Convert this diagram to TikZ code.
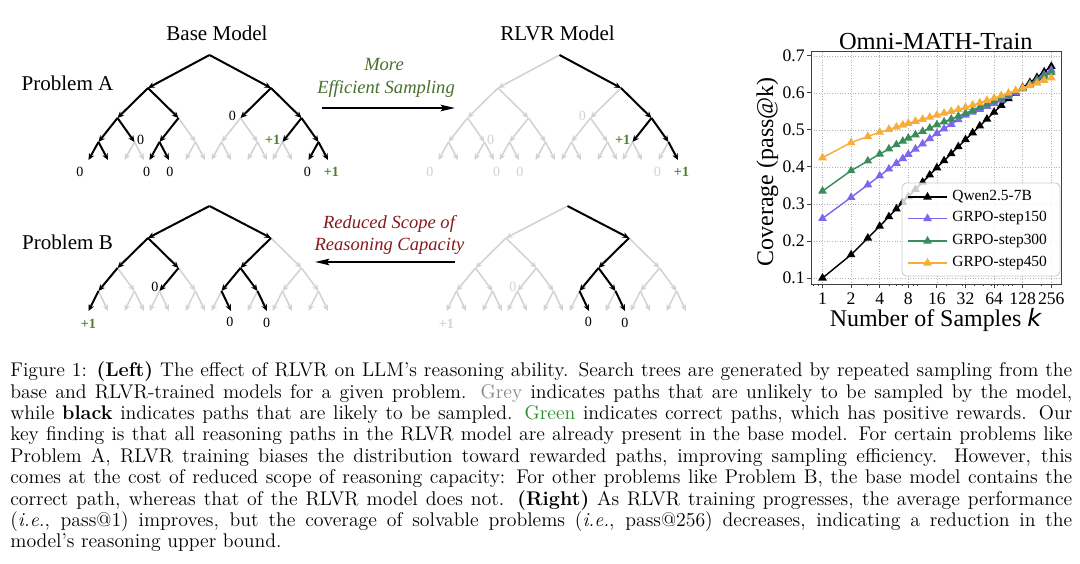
\documentclass[tikz,border=0pt]{standalone}
\usepackage{fontspec}
\newfontfamily\timesf{Liberation Serif}
\newfontfamily\dvsans{DejaVu Sans}
\usetikzlibrary{arrows.meta,calc,plotmarks}
\definecolor{lgrey}{RGB}{210,210,210}
\definecolor{tgreen}{RGB}{72,112,42}
\definecolor{lgreen}{RGB}{78,128,48}
\definecolor{dred}{RGB}{135,25,32}
\definecolor{capgreen}{RGB}{40,140,40}
\definecolor{capgrey}{RGB}{135,135,135}
\definecolor{cpurple}{RGB}{123,104,238}
\definecolor{cgreen}{RGB}{58,140,90}
\definecolor{corange}{RGB}{248,172,58}
\tikzset{
  gedge/.style={draw=lgrey, line width=0.85pt, -{Stealth[length=3.6pt,width=3.2pt]}},
  bedge/.style={draw=black, line width=1.1pt, -{Stealth[length=3.6pt,width=3.2pt]}},
  bigarrow/.style={draw=black, line width=1.1pt, -{Stealth[length=8pt,width=3.6pt,inset=1.5pt]}},
  ttl/.style={font=\timesf\fontsize{11.7}{14}\selectfont, inner sep=0, anchor=base},
  itl/.style={font=\timesf\itshape\fontsize{10.3}{12}\selectfont, inner sep=0, anchor=base},
  lab/.style={font=\timesf\fontsize{7.8}{9}\selectfont, inner sep=0},
  labg/.style={lab, text=lgrey},
  glab/.style={font=\timesf\bfseries\fontsize{7.8}{9}\selectfont, inner sep=0, text=lgreen},
  gglab/.style={glab, text=lgrey},
  gridl/.style={draw=black!30, densely dotted, line width=0.45pt},
  spine/.style={draw=black!75, line width=0.55pt},
  tickl/.style={font=\timesf\fontsize{9.8}{11}\selectfont, inner sep=0},
  legl/.style={font=\timesf\fontsize{8.6}{10}\selectfont, inner sep=0, anchor=west},
  pl/.style={line width=0.8pt, mark=triangle*, mark size=2pt, mark options={solid}},
}
\newcommand{\treelevel}[6]{%
  \foreach \c in {#2}{%
    \pgfmathtruncatemacro\pp{\c/2}%
    \pgfmathsetmacro\dx{ifthenelse(mod(\c,2)==0,#3,#4)}%
    \coordinate (#1\c) at ($(#1\pp)+(\dx,#6-#5)$);%
  }%
}
\newcommand{\mktree}[7]{%
  \coordinate (#11) at (#2,#3);
  \treelevel{#1}{2,3}{-61.5}{61.5}{#3}{#4}
  \treelevel{#1}{4,...,7}{-30.5}{30.5}{#4}{#5}
  \treelevel{#1}{8,...,15}{-19}{17}{#5}{#6}
  \treelevel{#1}{16,...,31}{-10}{9.5}{#6}{#7}
}
\newcommand{\mkedges}[2]{%
  \foreach \c in {2,...,31}{\pgfmathtruncatemacro\pp{\c/2}\draw[gedge] (#1\pp) -- (#1\c);}%
  \foreach \c in {#2}{\pgfmathtruncatemacro\pp{\c/2}\draw[bedge] (#1\pp) -- (#1\c);}%
}
\begin{document}
\begin{tikzpicture}[x=0.55556pt, y=-0.55556pt]
\fill[white] (0,0) rectangle (1080,564);
\useasboundingbox (0,0) rectangle (1080,564);

% ---------- trees ----------
\mktree{ta}{209.5}{55}{88}{118}{142}{160}
\mktree{tb}{559.5}{55}{88}{118}{142}{160}
\mktree{tc}{209.5}{206}{238}{268}{291}{311}
\mktree{td}{567.5}{206}{238}{268}{291}{311}
\mkedges{ta}{2,3,4,5,6,7,8,9,10,14,15,16,17,20,21,30,31}
\mkedges{tb}{3,7,14,15,31}
\mkedges{tc}{2,3,4,5,6,8,10,12,13,16,25,27}
\mkedges{td}{3,6,12,13,25,27}

% titles
\node[ttl] (tBase) at (217,40.7) {Base Model};
\node[ttl] (tRLVR) at (557.5,40.7) {RLVR Model};
\node[ttl] (tPA) at (67.5,91) {Problem A};
\node[ttl] (tPB) at (67.5,250) {Problem B};
\node[itl, text=tgreen] (tMore) at (384,71) {More};
\node[itl, text=tgreen] (tEff) at (386,94) {Efficient Sampling};
\node[itl, text=dred] (tRed) at (389,228.5) {Reduced Scope of};
\node[itl, text=dred] (tReas) at (389.5,250.5) {Reasoning Capacity};
\coordinate (a1s) at (322,108);
\coordinate (a1e) at (455,108);
\coordinate (a2s) at (455,262);
\coordinate (a2e) at (315,262);
\draw[bigarrow] (a1s) -- (a1e);
\draw[bigarrow] (a2s) -- (a2e);

% labels top base
\node[lab] (ta-l1) at (80,172) {0};
\node[lab] (ta-l2) at (140.7,140) {0};
\node[lab] (ta-l3) at (146.7,172) {0};
\node[lab] (ta-l4) at (170,172) {0};
\node[lab] (ta-l5) at (232.3,116) {0};
\node[glab] (ta-l6) at (272.7,139.5) {+1};
\node[lab] (ta-l7) at (307.3,172) {0};
\node[glab] (ta-l8) at (331.5,172) {+1};
% labels top RLVR
\node[labg] (tb-l1) at (430,172) {0};
\node[labg] (tb-l2) at (490.7,140) {0};
\node[labg] (tb-l3) at (496.7,172) {0};
\node[labg] (tb-l4) at (520,172) {0};
\node[labg] (tb-l5) at (582.3,116) {0};
\node[glab] (tb-l6) at (622.7,139.5) {+1};
\node[labg] (tb-l7) at (657.3,172) {0};
\node[glab] (tb-l8) at (681.5,172) {+1};
% labels bottom base
\node[glab] (tc-l1) at (88.3,324) {+1};
\node[lab] (tc-l2) at (155,287) {0};
\node[lab] (tc-l3) at (230,322) {0};
\node[lab] (tc-l4) at (266.7,323) {0};
% labels bottom RLVR
\node[gglab] (td-l1) at (446.3,323.5) {+1};
\node[labg] (td-l2) at (513,287) {0};
\node[lab] (td-l3) at (588.5,322) {0};
\node[lab] (td-l4) at (625,323) {0};

% ---------- plot ----------
\foreach \t in {0,...,8} \draw[gridl] ({822.5+28.6*\t},52) -- ({822.5+28.6*\t},284);
\foreach \v in {1,...,7} \draw[gridl] (811,{315-37*\v}) -- (1061,{315-37*\v});
\begin{scope}[shift={(822.5,315)}, x=15.889pt, y=205.56pt]
\draw[pl, color=black] plot coordinates {(0,.100) (1,.163) (1.585,.208) (2,.240) (2.322,.2658) (2.585,.2868) (2.807,.3046) (3,.320) (3.25,.3395) (3.5,.359) (3.75,.3785) (4,.398) (4.25,.417) (4.5,.436) (4.75,.455) (5,.474) (5.25,.4925) (5.5,.511) (5.75,.5295) (6,.548) (6.25,.5665) (6.5,.585) (6.75,.600) (7,.615) (7.25,.6285) (7.5,.642) (7.75,.657) (8,.672)};
\draw[pl, color=cpurple] plot coordinates {(0,.261) (1,.318) (1.585,.3519) (2,.376) (2.322,.3947) (2.585,.4099) (2.807,.4228) (3,.434) (3.25,.4483) (3.5,.4625) (3.75,.4768) (4,.491) (4.25,.5033) (4.5,.5155) (4.75,.5278) (5,.540) (5.25,.548) (5.5,.556) (5.75,.564) (6,.572) (6.25,.581) (6.5,.590) (6.75,.601) (7,.612) (7.25,.624) (7.5,.636) (7.75,.649) (8,.662)};
\draw[pl, color=cgreen] plot coordinates {(0,.335) (1,.390) (1.585,.4163) (2,.435) (2.322,.4488) (2.585,.4602) (2.807,.4697) (3,.478) (3.25,.487) (3.5,.496) (3.75,.505) (4,.514) (4.25,.5218) (4.5,.5295) (4.75,.5373) (5,.545) (5.25,.5533) (5.5,.5615) (5.75,.5698) (6,.578) (6.25,.5865) (6.5,.595) (6.75,.6035) (7,.612) (7.25,.6228) (7.5,.6335) (7.75,.6443) (8,.655)};
\draw[pl, color=corange] plot coordinates {(0,.425) (1,.466) (1.585,.4824) (2,.494) (2.322,.5017) (2.585,.508) (2.807,.5134) (3,.518) (3.25,.5235) (3.5,.529) (3.75,.5345) (4,.540) (4.25,.5453) (4.5,.5505) (4.75,.5558) (5,.561) (5.25,.5673) (5.5,.5735) (5.75,.5798) (6,.586) (6.25,.5928) (6.5,.5995) (6.75,.6063) (7,.613) (7.25,.620) (7.5,.627) (7.75,.634) (8,.641)};
\end{scope}
% legend
\draw[rounded corners=2.5pt, draw=black!20, fill=white, fill opacity=0.8, line width=0.5pt] (902,183) rectangle (1060,276);
\draw[pl, color=black, mark indices={2}] plot coordinates {(908,197) (927.5,197) (947,197)};
\draw[pl, color=cpurple, mark indices={2}] plot coordinates {(908,218.5) (927.5,218.5) (947,218.5)};
\draw[pl, color=cgreen, mark indices={2}] plot coordinates {(908,241) (927.5,241) (947,241)};
\draw[pl, color=corange, mark indices={2}] plot coordinates {(908,263) (927.5,263) (947,263)};
\node[legl] (lg1) at (952,197) {Qwen2.5-7B};
\node[legl] (lg2) at (952,218.5) {GRPO-step150};
\node[legl] (lg3) at (952,241) {GRPO-step300};
\node[legl] (lg4) at (952,263) {GRPO-step450};
% spines and ticks
\draw[spine] (811,52) rectangle (1061,284);
\foreach \t in {0,...,8} \draw[spine] ({822.5+28.6*\t},284) -- ({822.5+28.6*\t},288);
\foreach \t in {-0.322,-0.152,1.585,2.322,2.585,2.807,3.17,3.32,4.32,4.907,5.32,5.64,5.91,6.13,6.32,6.49,6.64,7.64} \draw[spine, line width=0.4pt] ({822.5+28.6*\t},284) -- ({822.5+28.6*\t},286.5);
\foreach \v in {1,...,7} \draw[spine] (811,{315-37*\v}) -- (807,{315-37*\v});
\foreach \v in {1,...,7} \node[tickl, anchor=east] (yt\v) at (805,{315-37*\v}) {0.\v};
\foreach \t/\lab in {0/1,1/2,2/4,3/8,4/16,5/32,6/64,7/128,8/256} \node[tickl] (xt\t) at ({822.5+28.6*\t},299) {\lab};
\node[font=\timesf\fontsize{13.6}{16}\selectfont, inner sep=0, anchor=base] (ptitle) at (935.8,49.3) {Omni-MATH-Train};
\node[font=\timesf\fontsize{13.3}{16}\selectfont, inner sep=0, anchor=base] (xlab) at (935.5,327) {Number of Samples {\dvsans\itshape k}};
\node[font=\timesf\fontsize{13.3}{16}\selectfont, inner sep=0, anchor=base, rotate=90] (ylab) at (773,171.7) {Coverage (pass@k)};

% ---------- caption ----------
\node[anchor=base west, inner sep=0, text width=590pt, align=justify, font=\fontsize{11}{11.89}\selectfont] (cap) at (10,376.7) {\tolerance=10000\noindent
Figure 1: \textbf{(Left)} The effect of RLVR on LLM's reasoning ability. Search trees are generated by repeated sampling from the\linebreak
base and RLVR-trained models for a given problem. {\color{capgrey}Grey} indicates paths that are unlikely to be sampled by the model,\linebreak
while \textbf{black} indicates paths that are likely to be sampled. {\color{capgreen}Green} indicates correct paths, which has positive rewards. Our\linebreak
key finding is that all reasoning paths in the RLVR model are already present in the base model. For certain problems like\linebreak
Problem A, RLVR training biases the distribution toward rewarded paths, improving sampling efficiency. However, this\linebreak
comes at the cost of reduced scope of reasoning capacity: For other problems like Problem B, the base model contains the\linebreak
correct path, whereas that of the RLVR model does not. \textbf{(Right)} As RLVR training progresses, the average performance\linebreak
(\textit{i.e.}, pass@1) improves, but the coverage of solvable problems (\textit{i.e.}, pass@256) decreases, indicating a reduction in the\linebreak
model's reasoning upper bound.\par};
\end{tikzpicture}
\end{document}
